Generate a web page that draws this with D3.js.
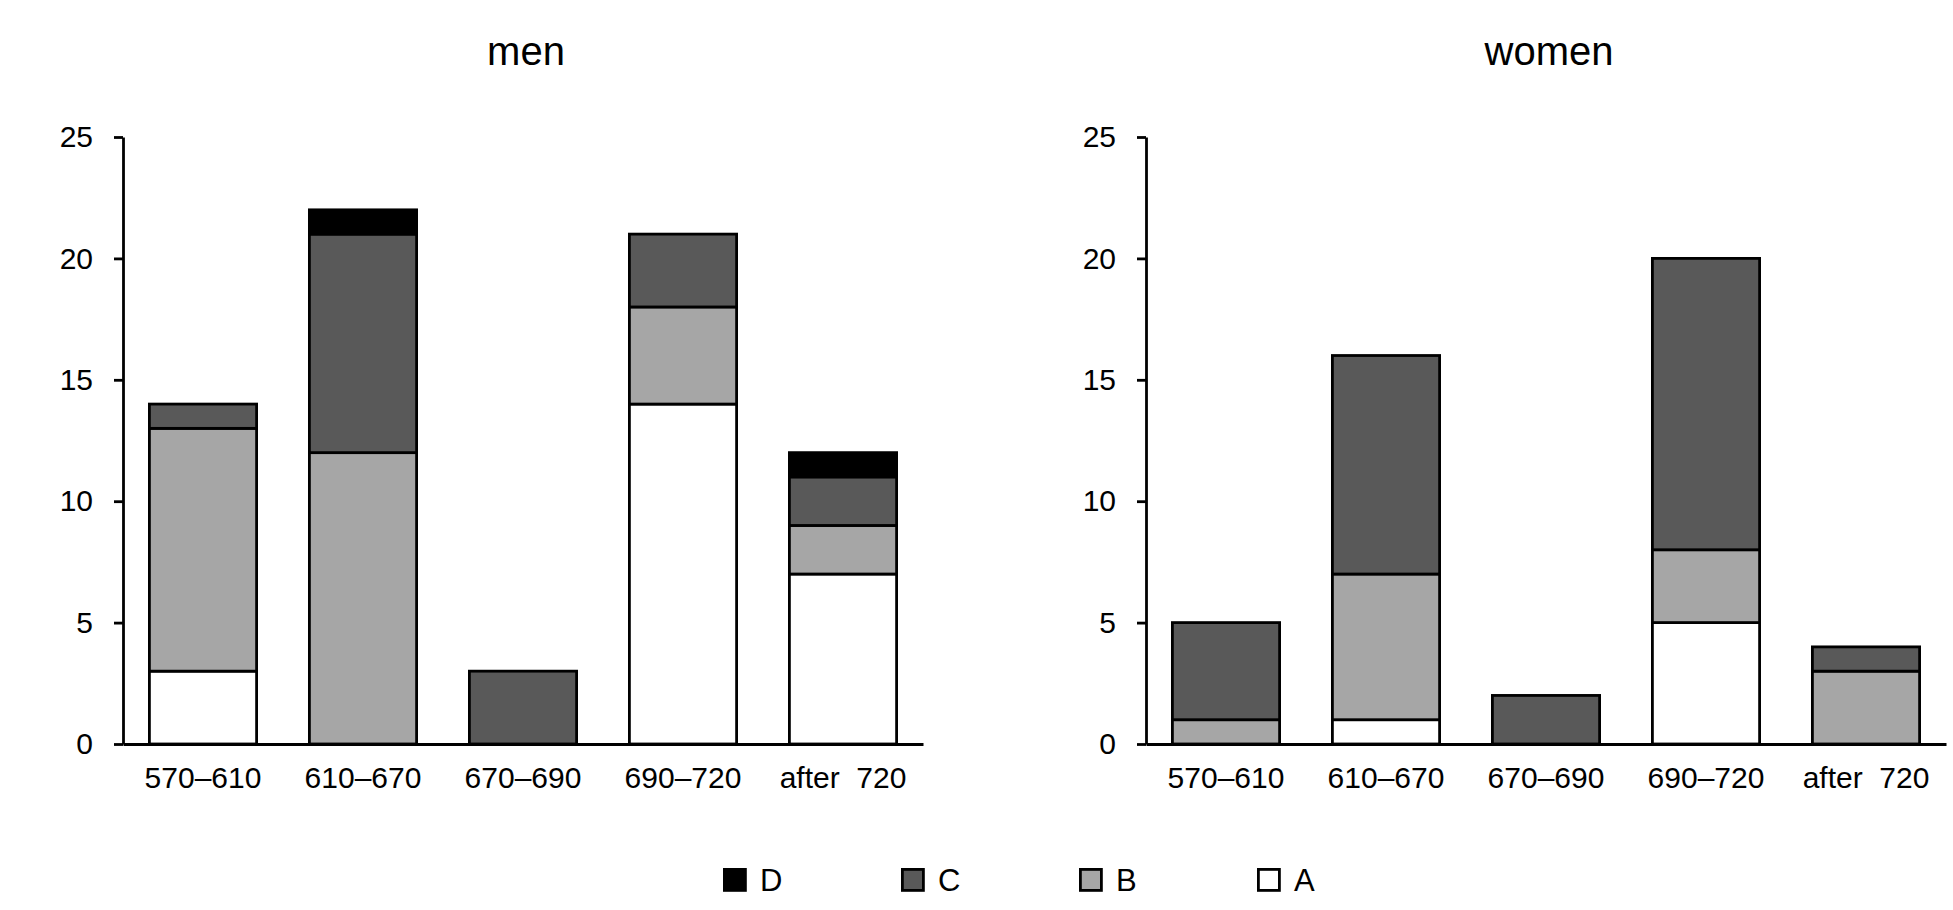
<!DOCTYPE html>
<html>
<head>
<meta charset="utf-8">
<script src="https://cdn.jsdelivr.net/npm/d3@7"></script>
<style>
  body { margin: 0; background: #fff; }
  svg { display: block; font-family: "Liberation Sans", Arial, sans-serif; }
</style>
</head>
<body>
<svg id="chart" width="1953" height="910"></svg>
<script>
// periods on the x axis
var periods = ["570\u2013610", "610\u2013670", "670\u2013690", "690\u2013720", "after  720"];
var groups = ["A", "B", "C", "D"];
var yTicks = [0, 5, 10, 15, 20, 25];

// counts per period
var menA = [3, 0, 0, 14, 7];
var menB = [10, 12, 0, 4, 2];
var menC = [1, 9, 3, 3, 2];
var menD = [0, 1, 0, 0, 1];

var womenA = [0, 1, 0, 5, 0];
var womenB = [1, 6, 0, 3, 3];
var womenC = [4, 9, 2, 12, 1];
var womenD = [0, 0, 0, 0, 0];

var fills = { A: "#ffffff", B: "#a6a6a6", C: "#595959", D: "#000000" };

var svg = d3.select("#chart");

var y = d3.scaleLinear().domain([0, 25]).range([744, 137]);

function rows(a, b, c, d) {
  return periods.map(function(p, i) {
    return { period: p, A: a[i], B: b[i], C: c[i], D: d[i] };
  });
}

function panel(title, x0, data) {
  var x = d3.scaleBand().domain(periods).range([x0, x0 + 800])
    .paddingInner(0.33).paddingOuter(0.165);
  var g = svg.append("g");

  g.append("text")
    .attr("x", x0 + 403).attr("y", 65)
    .attr("text-anchor", "middle")
    .style("font-size", "40px")
    .text(title);

  var series = d3.stack().keys(groups)(data);

  g.selectAll("g.layer")
    .data(series).enter()
    .append("g").attr("class", "layer")
    .attr("fill", function(s) { return fills[s.key]; })
    .selectAll("rect")
    .data(function(s) { return s.filter(function(d) { return d[1] > d[0]; }); })
    .enter().append("rect")
    .attr("x", function(d) { return x(d.data.period); })
    .attr("width", x.bandwidth())
    .attr("y", function(d) { return y(d[1]); })
    .attr("height", function(d) { return y(d[0]) - y(d[1]); })
    .attr("stroke", "#000")
    .attr("stroke-width", 2.8);

  var ya = g.append("g")
    .attr("transform", "translate(" + x0 + ",0)")
    .call(d3.axisLeft(y).tickValues(yTicks).tickSize(9).tickSizeOuter(0).tickPadding(21));
  ya.selectAll("text").style("font-size", "30px").attr("fill", "#000");

  var xa = g.append("g")
    .attr("transform", "translate(0," + y(0) + ")")
    .call(d3.axisBottom(x).tickSize(0).tickSizeOuter(0).tickPadding(23));
  xa.selectAll("text").style("font-size", "30px").attr("fill", "#000")
    .style("white-space", "pre").attr("xml:space", "preserve");

  [ya, xa].forEach(function(a) {
    a.attr("font-family", null).attr("font-size", null);
    a.selectAll("path, line").attr("stroke", "#000").attr("stroke-width", 2.8);
  });
}

panel("men", 123, rows(menA, menB, menC, menD));
panel("women", 1146, rows(womenA, womenB, womenC, womenD));

// legend
var legendKeys = ["D", "C", "B", "A"];
var lg = svg.append("g").selectAll("g")
  .data(legendKeys).enter().append("g")
  .attr("transform", function(d, i) { return "translate(" + (723 + i * 178) + ",868)"; });
lg.append("rect")
  .attr("x", 1.4).attr("y", 1.4).attr("width", 21).attr("height", 21)
  .attr("fill", function(d) { return fills[d]; })
  .attr("stroke", "#000").attr("stroke-width", 2.8);
lg.append("text")
  .attr("x", 37).attr("y", 23)
  .style("font-size", "31px")
  .text(function(d) { return d; });
</script>
</body>
</html>
